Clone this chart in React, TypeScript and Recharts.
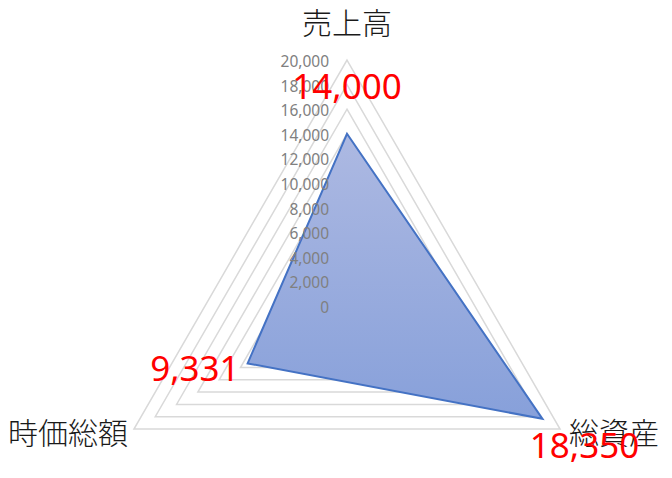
import React from "react";
import {
  PolarAngleAxis,
  PolarGrid,
  PolarRadiusAxis,
  Radar,
  RadarChart,
  LabelList
} from "recharts";

const categories = ["売上高", "総資産", "時価総額"];
const values = [14000, 18350, 9331];
const radiusTicks = [0, 2000, 4000, 6000, 8000, 10000, 12000, 14000, 16000, 18000, 20000];

const data = categories.map((name, i) => ({ name, value: values[i] }));

const fmt = (v: number) => v.toLocaleString("en-US");

function AngleTick(props: any) {
  const { x, y, payload, index } = props;
  const common = {
    fontSize: 30,
    fill: "#1a1a1a",
    fontFamily: "'Noto Sans CJK JP', sans-serif",
    fontWeight: 300,
    dominantBaseline: "central" as const
  };
  if (index === 0) {
    return <text x={x} y={y - 31} textAnchor="middle" {...common}>{payload.value}</text>;
  }
  if (index === 1) {
    return <text x={x + 2} y={y - 2} textAnchor="start" {...common}>{payload.value}</text>;
  }
  return <text x={x + 1} y={y - 2} textAnchor="end" {...common}>{payload.value}</text>;
}

function RadiusTick(props: any) {
  const { x, y, payload } = props;
  return (
    <text
      x={x - 18}
      y={y + 1}
      textAnchor="end"
      dominantBaseline="central"
      fontSize={15.5}
      fill="#808080"
      fontFamily="'Noto Sans', sans-serif"
    >
      {fmt(payload.value)}
    </text>
  );
}

function ValueLabel(props: any) {
  const { x, y, value, index } = props;
  const style = {
    fontSize: 35,
    fill: "#ff0000",
    fontFamily: "'Noto Sans', sans-serif",
    dominantBaseline: "central" as const
  };
  if (index === 0) {
    return <text x={x} y={y - 48} textAnchor="middle" {...style}>{fmt(value)}</text>;
  }
  if (index === 1) {
    return <text x={x + 42} y={y + 26} textAnchor="middle" {...style}>{fmt(value)}</text>;
  }
  return <text x={x - 8} y={y + 4} textAnchor="end" {...style}>{fmt(value)}</text>;
}

export default function App() {
  return (
    <div style={{ position: "absolute", left: 0, top: 0, width: 672, height: 478, background: "#fff" }}>
      <RadarChart width={672} height={478} data={data} cx={347} cy={306} outerRadius={246}>
        <defs>
          <linearGradient id="radarFill" x1="0" y1="0" x2="0" y2="1">
            <stop offset="0%" stopColor="#adb9e2" />
            <stop offset="100%" stopColor="#87a0da" />
          </linearGradient>
        </defs>
        <PolarGrid gridType="polygon" radialLines={false} stroke="#d9d9d9" strokeWidth={1.5} />
        <PolarAngleAxis dataKey="name" tick={<AngleTick />} tickLine={false} axisLine={false} />
        <PolarRadiusAxis
          angle={90}
          domain={[0, 20000]}
          ticks={radiusTicks as any}
          tickCount={11}
          tick={<RadiusTick />}
          axisLine={false}
          tickLine={false}
        />
        <Radar
          dataKey="value"
          stroke="#4472c4"
          strokeWidth={2}
          fill="url(#radarFill)"
          fillOpacity={1}
          isAnimationActive={false}
        >
          <LabelList dataKey="value" content={<ValueLabel />} />
        </Radar>
      </RadarChart>
    </div>
  );
}
